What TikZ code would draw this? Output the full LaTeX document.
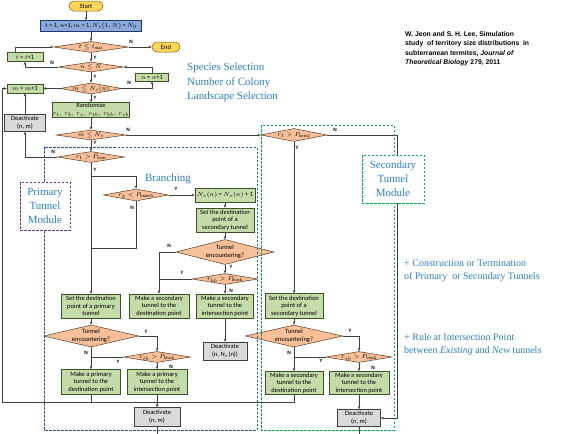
\documentclass[tikz,border=0pt]{standalone}
\usepackage{fontspec}
\setmainfont{Liberation Serif}
\newfontfamily\boxfont{Carlito}
\newfontfamily\labfont{Liberation Sans}
\usetikzlibrary{shapes.geometric,arrows.meta}
\definecolor{linec}{HTML}{3F3F3F}
\definecolor{dfill}{HTML}{F7C09A}
\definecolor{dline}{HTML}{5C3B22}
\definecolor{gfill}{HTML}{C4DCAA}
\definecolor{gline}{HTML}{3B5323}
\definecolor{bfill}{HTML}{8AA8DA}
\definecolor{bline}{HTML}{203864}
\definecolor{yfill}{HTML}{FFD55C}
\definecolor{yline}{HTML}{7F6000}
\definecolor{kfill}{HTML}{DADADA}
\definecolor{kline}{HTML}{404040}
\definecolor{txtblue}{HTML}{2F7FC1}
\definecolor{modblue}{HTML}{2F5597}
\definecolor{modgreen}{HTML}{00B050}
\definecolor{modpurple}{HTML}{7030A0}
\newcommand\dtext[1]{\makebox[0pt]{\smash{\raisebox{-1.9pt}{#1}}}}
\newcommand\dtwo[2]{\makebox[0pt]{\smash{\raisebox{-1.6pt}{\begin{tabular}{@{}c@{}}#1\\#2\end{tabular}}}}}
\tikzset{
  ln/.style={draw=linec, line width=0.55pt},
  arr/.style={ln, -{Stealth[length=3.2pt,width=2.6pt]}},
  sz/.style 2 args={minimum width=#1pt, minimum height=#2pt},
  basebox/.style={line width=0.5pt, inner sep=0.5pt, align=center, font=\boxfont\fontsize{6.5}{7.6}\selectfont},
  gbox/.style={basebox, draw=gline, fill=gfill},
  kbox/.style={basebox, draw=kline, fill=kfill},
  bbox/.style={basebox, draw=bline, fill=bfill},
  ybox/.style={basebox, draw=yline, fill=yfill, rounded corners=5pt},
  dia/.style={basebox, diamond, draw=dline, fill=dfill, inner sep=0pt},
  yn/.style={font=\labfont\bfseries\fontsize{4.8}{5}\selectfont, inner sep=0pt},
  bluetxt/.style={text=txtblue, font=\fontsize{11}{14}\selectfont, inner sep=0pt},
  modlbl/.style={bluetxt, align=center, fill=white, line width=0.8pt, dash pattern=on 2.5pt off 1.5pt},
  cite/.style={font=\labfont\bfseries\fontsize{6.8}{8}\selectfont, inner sep=0pt, anchor=west},
  side/.style={text=txtblue, font=\fontsize{10}{12}\selectfont, inner sep=0pt, anchor=west},
  modrect/.style={line width=0.8pt, dash pattern=on 2.5pt off 1.5pt},
}
\begin{document}
\begin{tikzpicture}[x=1pt,y=-1pt]
\useasboundingbox (0,0) rectangle (574,434);
\fill[white] (0,0) rectangle (574,434);
% main column
\node[ybox, sz={34}{10}] (start) at (86,6) {Start};
\node[bbox, sz={101}{11}, font=\boxfont\fontsize{6.2}{7}\selectfont] (init) at (91,26) {$t$ = 1, $n$=1, $m$ = 1, $N_s(1,N)$ = $N_0$};
\node[dia, sz={75}{11}] (d1) at (91,47) {\dtext{$t \le t_{\max}$}};
\node[ybox, sz={28}{10}] (fin) at (166,47) {End};
\node[gbox, sz={36}{9}] (tinc) at (25,57) {$t$ = $t$+1};
\node[dia, sz={65}{10}] (d2) at (91,67) {\dtext{$n \le N$}};
\node[gbox, sz={33}{8}] (ninc) at (152,77) {$n$ = $n$+1};
\node[dia, sz={62}{11}] (d3) at (91,88.5) {\dtext{$m \le N_s(n)$}};
\node[gbox, sz={36}{9}] (minc) at (25,88.5) {$m$ = $m$+1};
\node[gbox, sz={59}{15}] (rand) at (91,110) {Randomize\\$r_t,\, r_b,\, r_s,\, r_{tb},\, r_{bb},\, r_{sb}$};
\node[kbox, sz={41}{17}] (deact1) at (25,123) {Deactivate\\(n, m)};
\node[dia, sz={70}{10}] (d4) at (91,135) {\dtext{$m \le N_s$}};
\node[dia, sz={67}{11}] (d5) at (91,157) {\dtext{$r_t > P_{\mathrm{term}}$}};
\node[dia, sz={65}{12}] (d6) at (136,195) {\dtext{$r_b < P_{\mathrm{branch}}$}};
\node[gbox, sz={60}{14}] (nsinc) at (225,195) {$N_s(n)$ = $N_s(n)$ + 1};
\node[gbox, sz={58}{24}] (setsec) at (225,220) {Set the destination\\point of a\\secondary tunnel};
\node[dia, sz={98}{25}] (te1) at (225,252) {\dtwo{Tunnel}{encountering?}};
\node[dia, sz={66}{11}] (blk1) at (225,279) {\dtext{$r_{bb} > P_{\mathrm{block}}$}};
\node[gbox, sz={60}{24}] (mksd1) at (159,306) {Make a secondary\\tunnel to the\\destination point};
\node[gbox, sz={57}{24}] (mksi1) at (225,306) {Make a secondary\\tunnel to the\\intersection point};
\node[kbox, sz={44}{18}] (deactns) at (225,351) {Deactivate\\(n, N$_s$(n))};
\node[gbox, sz={59}{24}] (setpri) at (91,306) {Set the destination\\point of a primary\\tunnel};
\node[dia, sz={95}{22}] (te2) at (91,336) {\dtwo{Tunnel}{encountering?}};
\node[dia, sz={67}{11}] (blk2) at (157,357) {\dtext{$r_{tb} > P_{\mathrm{block}}$}};
\node[gbox, sz={59}{25}] (mkpd) at (91,382) {Make a primary\\tunnel to the\\destination point};
\node[gbox, sz={60}{25}] (mkpi) at (157,382) {Make a primary\\tunnel to the\\intersection point};
\node[kbox, sz={46}{19}] (deact2) at (157,417) {Deactivate\\(n, m)};
% secondary column
\node[dia, sz={66}{13}] (d7) at (294,135) {\dtext{$r_t > P_{\mathrm{term2}}$}};
\node[gbox, sz={58}{25}] (setsec2) at (294,306) {Set the destination\\point of a\\secondary tunnel};
\node[dia, sz={97}{22}] (te3) at (294,336) {\dtwo{Tunnel}{encountering?}};
\node[dia, sz={66}{11}] (blk3) at (359,357) {\dtext{$r_{sb} > P_{\mathrm{block}}$}};
\node[gbox, sz={58}{23}] (mksd2) at (294,383) {Make a secondary\\tunnel to the\\destination point};
\node[gbox, sz={60}{23}] (mksi2) at (359,383) {Make a secondary\\tunnel to the\\intersection point};
\node[kbox, sz={43}{17}] (deact3) at (359,418) {Deactivate\\(n, m)};
% coordinates
\coordinate (jb) at (91,176);
\coordinate (jn) at (91,248);
\coordinate (bl) at (2,402);
\coordinate (rc) at (397,135);
\coordinate (bot1) at (157,434);
\coordinate (bot2) at (359,434);
% connectors
\draw[arr] (start.south) -- (start.south |- init.north);
\draw[arr] (init.south) -- (d1.north);
\draw[arr] (d1.east) -- (fin.west);
\draw[arr] (d1.south) -- (d2.north);
\draw[arr] (d2.west) -| (tinc.south);
\draw[arr] ([xshift=-10pt]tinc.north) |- (d1.west);
\draw[arr] (d2.south) -- (d3.north);
\draw[arr] (d3.east) -| (ninc.south);
\draw[arr] (ninc.north) |- (d2.east);
\draw[arr] (d3.west) -- (minc.east);
\draw[arr] (d3.south) -- (rand.north);
\draw[arr] (rand.south) -- (d4.north);
\draw[arr] (d4.east) -- (d7.west);
\draw[arr] (d4.south) -- (d5.north);
\draw[arr] (d5.west) -| (deact1.south);
\draw[arr] (deact1.north) -- (minc.south);
\draw[arr] (d5.south) -- (setpri.north);
\draw[arr] (jb) -| (d6.north);
\draw[ln] (d6.south) |- (jn);
\draw[arr] (d6.east) -- (nsinc.west);
\draw[arr] (nsinc.south) -- (setsec.north);
\draw[arr] (setsec.south) -- (te1.north);
\draw[arr] (te1.south) -- (blk1.north);
\draw[arr] (te1.west) -| (mksd1.north);
\draw[ln] (blk1.west) -- (blk1.west -| mksd1.north);
\draw[arr] (blk1.south) -- (mksi1.north);
\draw[arr] (mksi1.south) -- (deactns.north);
\draw[arr] (setpri.south) -- (te2.north);
\draw[arr] (te2.east) -| (blk2.north);
\draw[arr] (te2.south) -- (mkpd.north);
\draw[ln] (blk2.west) -- (blk2.west -| mkpd.north);
\draw[arr] (blk2.south) -- (mkpi.north);
\draw[arr] (mkpi.south) -- (deact2.north);
\draw[ln] (deact2.south) -- (bot1);
\draw[arr] (mksd2.south) |- (bl) |- (minc.west);
\draw[ln] (mkpd.south) -- (mkpd.south |- bl);
\draw[arr] (d7.south) -- (setsec2.north);
\draw[arr] (setsec2.south) -- (te3.north);
\draw[arr] (te3.east) -| (blk3.north);
\draw[arr] (te3.south) -- (mksd2.north);
\draw[ln] (blk3.west) -- (blk3.west -| mksd2.north);
\draw[arr] (blk3.south) -- (mksi2.north);
\draw[arr] (mksi2.south) -- (deact3.north);
\draw[arr] (d7.east) -- (rc) |- (deact3.east);
\draw[ln] (deact3.south) -- (bot2);
% Y/N labels
\node[yn] (l1) at (131,42) {N};
\node[yn] (l2) at (95,58) {Y};
\node[yn] (l3) at (52,63) {N};
\node[yn] (l4) at (95,77) {Y};
\node[yn] (l5) at (129,83) {N};
\node[yn] (l6) at (95,97.5) {Y};
\node[yn] (l7) at (128,130) {N};
\node[yn] (l8) at (95,143) {Y};
\node[yn] (l9) at (53,152) {N};
\node[yn] (l10) at (95,170) {Y};
\node[yn] (l11) at (176,189) {Y};
\node[yn] (l12) at (132,208) {N};
\node[yn] (l13) at (169,246) {N};
\node[yn] (l14) at (231,267) {Y};
\node[yn] (l15) at (182,273) {Y};
\node[yn] (l16) at (231,291) {N};
\node[yn] (l17) at (146,332) {Y};
\node[yn] (l18) at (86,353) {N};
\node[yn] (l19) at (118,362) {Y};
\node[yn] (l20) at (171,367) {N};
\node[yn] (l21) at (335,130) {N};
\node[yn] (l22) at (297,148) {Y};
\node[yn] (l23) at (350,331) {Y};
\node[yn] (l24) at (289,353) {N};
\node[yn] (l25) at (321,361) {Y};
\node[yn] (l26) at (373,368) {N};
% module frames
\draw[modrect, draw=modblue] (44,147) rectangle (257,430);
\draw[modrect, draw=modgreen] (261,125) rectangle (394,430);
\node[modlbl, draw=modpurple, sz={50}{48}] (plbl) at (45,206) {Primary\\Tunnel\\Module};
\node[modlbl, draw=modgreen, sz={62}{48}] (slbl) at (393,179) {Secondary\\Tunnel\\Module};
\node[bluetxt] (brl) at (168,179) {Branching};
% side texts
\node[bluetxt, anchor=west] (sp1) at (187,68) {Species Selection};
\node[bluetxt, anchor=west] (sp2) at (187,82.5) {Number of Colony};
\node[bluetxt, anchor=west] (sp3) at (187,97) {Landscape Selection};
\node[side] (r1) at (404,263) {+ Construction or Termination};
\node[side] (r2) at (404,277) {of Primary\ \ or Secondary Tunnels};
\node[side] (r3) at (404,337) {+ Rule at Intersection Point};
\node[side] (r4) at (404,351) {between \textit{Existing} and \textit{New} tunnels};
\node[cite] (c1) at (405,35) {W. Jeon and S. H. Lee, Simulation};
\node[cite] (c2) at (405,44) {study\ \ of territory size distributions\ \ in};
\node[cite] (c3) at (405,53.5) {subterranean termites, \textit{Journal of}};
\node[cite] (c4) at (405,63) {\textit{Theoretical Biology} 279, 2011};
\end{tikzpicture}
\end{document}
